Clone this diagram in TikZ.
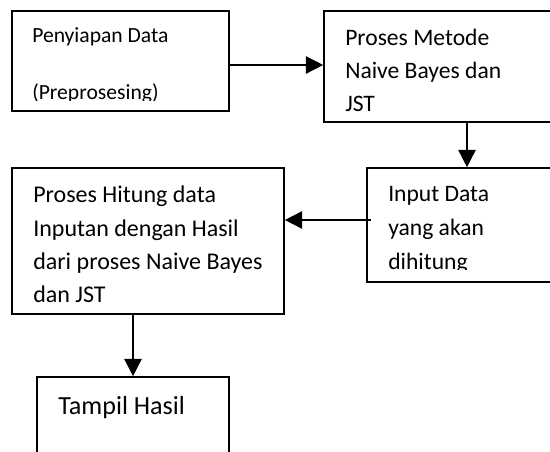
\documentclass[tikz,border=0pt]{standalone}
\usepackage{fontspec}
\setmainfont{Carlito}
\usetikzlibrary{arrows.meta,fit,calc}

\tikzset{
  box/.style={draw, line width=1.2pt, inner sep=0pt},
  txt/.style={anchor=base west, inner sep=0pt, align=left},
  arr/.style={line width=1.2pt, -{Triangle[length=13pt,width=13pt]}},
}

\begin{document}
\begin{tikzpicture}[x=0.75pt,y=0.75pt,yscale=-1,xscale=1]
\useasboundingbox (0,0) rectangle (550,452);
\clip (0,0) rectangle (550,452);

%Shape: Rectangle [prep]
\node [box, fit={(12,11) (229,111)}] (prep) {};
%Shape: Rectangle [nb]
\node [box, fit={(324,11) (610,122)}] (nb) {};
%Shape: Rectangle [inp]
\node [box, fit={(367,168) (600,282)}] (inp) {};
%Shape: Rectangle [calc]
\node [box, fit={(12,168) (284,314)}] (calc) {};
%Shape: Rectangle [hasil]
\node [box, fit={(37,377) (229,480)}] (hasil) {};

% Text Node (base = last line)
\begin{scope}
\clip (12,11) rectangle (229,101);
\node [txt, font=\fontsize{16.2}{43}\selectfont] (preptxt) at (32,100) {Penyiapan Data\\(Preprosesing)};
\end{scope}
% Text Node
\node [txt, font=\fontsize{17.7}{24.75}\selectfont] (nbtxt) at (345,112) {Proses Metode\\Naive Bayes dan\\JST};
% Text Node
\begin{scope}
\clip (367,168) rectangle (550,270);
\node [txt, font=\fontsize{17.7}{25.5}\selectfont] (inptxt) at (388,270) {Input Data\\yang akan\\dihitung};
\end{scope}
% Text Node
\node [txt, font=\fontsize{18}{25}\selectfont] (calctxt) at (33,303) {Proses Hitung data\\Inputan dengan Hasil\\dari proses Naive Bayes\\dan JST};
% Text Node
\node [txt, font=\fontsize{19.6}{23}\selectfont] (hasiltxt) at (58,414) {Tampil Hasil};

%Straight Lines
\draw [arr] ($(prep.east)+(0,4)$) -- ($(nb.west |- prep.east)+(0,4)$);
\draw [arr] (nb.south) -- (nb.south |- inp.north);
\draw [arr] ($(inp.west)+(5,-5)$) -- ($(calc.east |- inp.west)+(0,-5)$);
\draw [arr] (hasil.north |- calc.south) -- (hasil.north);

\end{tikzpicture}
\end{document}
